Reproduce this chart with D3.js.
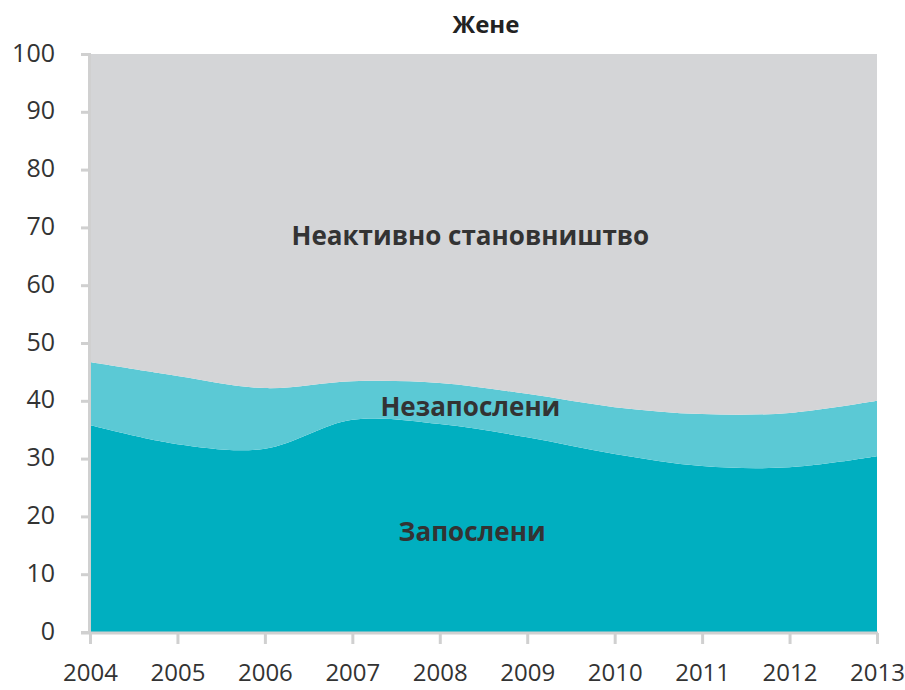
<!DOCTYPE html>
<html>
<head>
<meta charset="utf-8">
<script src="https://cdn.jsdelivr.net/npm/d3@7"></script>
<style>
  body { margin: 0; background: #fff; }
  text { font-family: "Open Sans", "Noto Sans", sans-serif; }
</style>
</head>
<body>
<div id="chart"></div>
<script>
// Жене: структура становништва (%)
var years = [2004, 2005, 2006, 2007, 2008, 2009, 2010, 2011, 2012, 2013];
var employed   = [35.8, 32.5, 31.7, 36.7, 36.0, 33.7, 30.8, 28.7, 28.5, 30.4];
var unemployed = [10.9, 11.8, 10.5, 6.7, 7.1, 7.5, 8.1, 9.0, 9.4, 9.6];
var inactive   = [53.3, 55.7, 57.8, 56.6, 56.9, 58.8, 61.1, 62.3, 62.1, 60.0];
var yTicks = [0, 10, 20, 30, 40, 50, 60, 70, 80, 90, 100];

var width = 905, height = 690;
var margin = {left: 90, right: 28, top: 54, bottom: 58};

var rows = years.map(function (y, i) {
    return {year: y, employed: employed[i], unemployed: unemployed[i], inactive: inactive[i]};
});

var keys = ['employed', 'unemployed', 'inactive'];
var color = d3.scaleOrdinal()
    .domain(keys)
    .range(['#00afc0', '#5bc9d5', '#d4d5d7']);

var svg = d3.select('#chart')
    .append('svg')
    .attr('width', width)
    .attr('height', height);

var x = d3.scaleLinear()
    .domain([2004, 2013])
    .range([margin.left, width - margin.right]);

var y = d3.scaleLinear()
    .domain([0, 100])
    .range([height - margin.bottom, margin.top]);

var series = d3.stack().keys(keys)(rows);

var area = d3.area()
    .curve(d3.curveCatmullRom.alpha(0.5))
    .x(function (d) { return x(d.data.year); })
    .y0(function (d) { return y(d[0]); })
    .y1(function (d) { return y(Math.min(d[1], 100)); });

svg.selectAll('path.layer')
    .data(series)
    .enter()
    .append('path')
    .attr('class', 'layer')
    .attr('d', area)
    .attr('fill', function (d) { return color(d.key); });

// axes
var axisColor = '#d0d0d0';
var yAxis = svg.append('g')
    .attr('transform', 'translate(' + (margin.left - 1) + ',0)')
    .call(d3.axisLeft(y).tickValues(yTicks).tickSize(8).tickPadding(26));

var xAxis = svg.append('g')
    .attr('transform', 'translate(0,' + (height - margin.bottom + 1) + ')')
    .call(d3.axisBottom(x).tickValues(years).tickFormat(d3.format('d')).tickSize(11).tickPadding(20));

[yAxis, xAxis].forEach(function (a) {
    a.select('.domain').attr('stroke', axisColor).attr('stroke-width', 3);
    a.selectAll('.tick line').attr('stroke', axisColor).attr('stroke-width', 3);
    a.selectAll('.tick text')
        .attr('fill', '#333')
        .style('font-size', '24px');
});
yAxis.selectAll('.tick text').attr('dy', '0.28em').style('font-size', '25px');
xAxis.select('.domain').attr('d', 'M' + (margin.left - 9) + ',0H' + (width - margin.right + 1));

// title
svg.append('text')
    .attr('x', 486)
    .attr('y', 33)
    .attr('text-anchor', 'middle')
    .attr('fill', '#222')
    .style('font-size', '24px')
    .style('font-weight', 'bold')
    .text('Жене');

// layer labels
var labels = [
    {text: 'Неактивно становништво', year: 2008.35, value: 66.9},
    {text: 'Незапослени', year: 2008.35, value: 37.3},
    {text: 'Запослени', year: 2008.37, value: 15.8}
];

svg.selectAll('text.layer-label')
    .data(labels)
    .enter()
    .append('text')
    .attr('class', 'layer-label')
    .attr('x', function (d) { return x(d.year); })
    .attr('y', function (d) { return y(d.value); })
    .attr('text-anchor', 'middle')
    .attr('fill', '#333')
    .style('font-size', '26px')
    .style('font-weight', 'bold')
    .text(function (d) { return d.text; });
</script>
</body>
</html>
